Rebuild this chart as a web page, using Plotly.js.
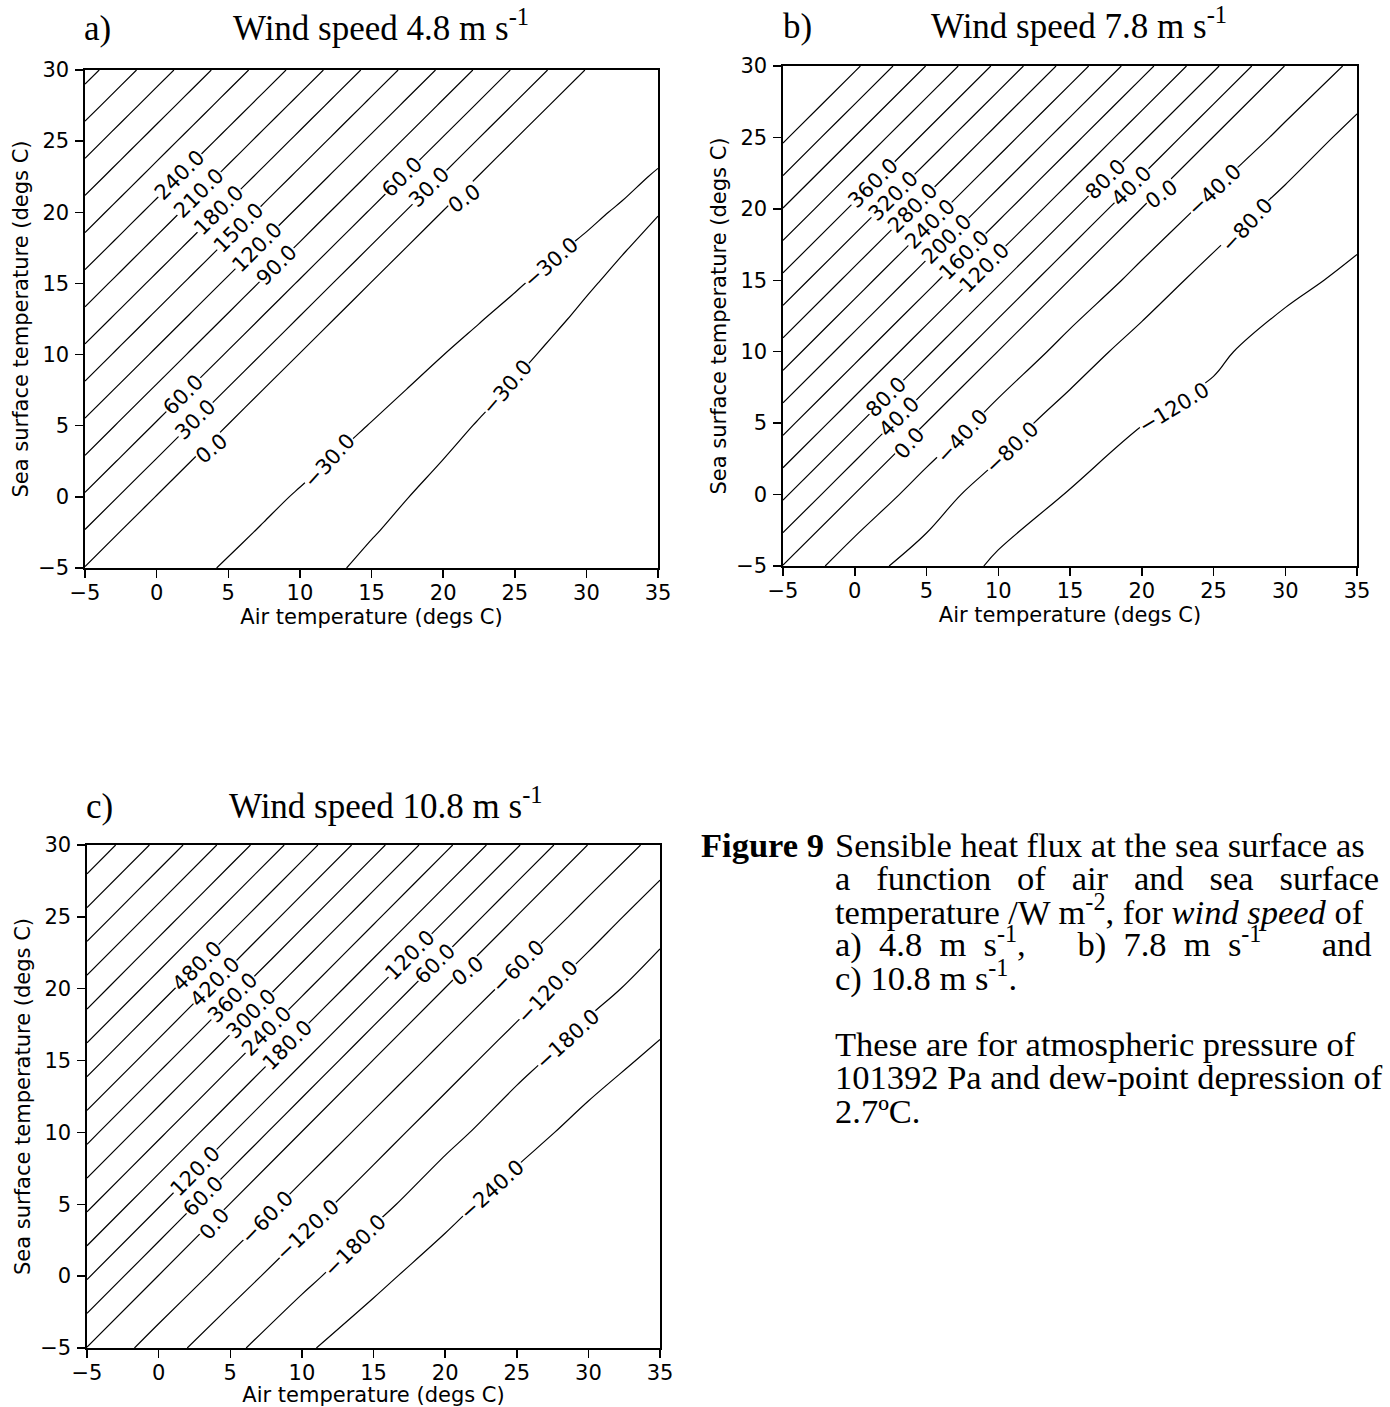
<!DOCTYPE html>
<html>
<head>
<meta charset="utf-8">
<script src="https://cdn.plot.ly/plotly-3.0.1.min.js"></script>
<style>
  html, body { margin: 0; padding: 0; background: #ffffff; }
  #fig { width: 1390px; height: 1407px; }
</style>
</head>
<body>
<div id="fig"></div>
<script>
// Sensible heat flux (W m-2) over a grid of air temperature (x) and sea surface temperature (y).
// Rows run along sea surface temperature, columns along air temperature.

// 2.5-degree grid used for the 4.8 m/s case (the stable side has a shallow flux minimum)
const airTempFine = [-5, -2.5, 0, 2.5, 5, 7.5, 10, 12.5, 15, 17.5, 20, 22.5, 25, 27.5, 30, 32.5, 35];
const seaTempFine = [-5, -2.5, 0, 2.5, 5, 7.5, 10, 12.5, 15, 17.5, 20, 22.5, 25, 27.5, 30];

// 5-degree grid used for the 7.8 and 10.8 m/s cases
const airTemp = [-5, 0, 5, 10, 15, 20, 25, 30, 35];
const seaTemp = [-5, 0, 5, 10, 15, 20, 25, 30];

// Wind speed 4.8 m/s
const fluxWind48 = [
  [-1.2, -11.9, -21.1, -27.5, -31.2, -32.8, -32.7, -30.7, -28.4, -26.8, -25.5, -24.5, -23.7, -23.1, -22.7, -22.3, -22.0],
  [27.6, -1.2, -11.9, -21.0, -27.4, -31.1, -32.8, -32.5, -30.4, -28.3, -26.7, -25.4, -24.4, -23.7, -23.1, -22.6, -22.3],
  [56.4, 27.6, -1.2, -11.9, -21.0, -27.4, -31.1, -32.7, -32.4, -30.1, -28.1, -26.5, -25.3, -24.3, -23.6, -23.0, -22.6],
  [85.1, 56.4, 27.6, -1.2, -11.6, -20.6, -27.0, -30.8, -32.5, -32.2, -29.9, -27.9, -26.4, -25.2, -24.3, -23.5, -23.0],
  [113.9, 85.1, 56.4, 27.6, -1.2, -11.3, -20.1, -26.5, -30.5, -32.3, -31.9, -29.6, -27.7, -26.2, -25.1, -24.2, -23.5],
  [142.6, 113.9, 85.1, 56.4, 27.6, -1.2, -11.1, -19.8, -26.2, -30.2, -32.1, -31.7, -29.4, -27.5, -26.1, -25.0, -24.1],
  [171.4, 142.6, 113.9, 85.1, 56.4, 27.6, -1.2, -10.8, -19.4, -25.8, -29.95, -31.9, -31.4, -29.1, -27.3, -25.9, -24.8],
  [200.1, 171.4, 142.6, 113.9, 85.1, 56.4, 27.6, -1.2, -10.6, -19.1, -25.5, -29.7, -31.7, -31.1, -28.8, -27.1, -25.7],
  [228.9, 200.1, 171.4, 142.6, 113.9, 85.1, 56.4, 27.6, -1.2, -10.4, -18.8, -25.1, -29.4, -31.5, -30.7, -28.5, -26.9],
  [257.6, 228.9, 200.1, 171.4, 142.6, 113.9, 85.1, 56.4, 27.6, -1.2, -10.1, -18.2, -24.5, -28.9, -31.3, -30.4, -28.3],
  [286.4, 257.6, 228.9, 200.1, 171.4, 142.6, 113.9, 85.1, 56.4, 27.6, -1.2, -9.7, -17.7, -23.9, -28.4, -31.0, -30.2],
  [315.1, 286.4, 257.6, 228.9, 200.1, 171.4, 142.6, 113.9, 85.1, 56.4, 27.6, -1.2, -9.4, -17.2, -23.4, -27.9, -30.8],
  [343.9, 315.1, 286.4, 257.6, 228.9, 200.1, 171.4, 142.6, 113.9, 85.1, 56.4, 27.6, -1.2, -9.2, -16.8, -22.8, -27.4],
  [372.6, 343.9, 315.1, 286.4, 257.6, 228.9, 200.1, 171.4, 142.6, 113.9, 85.1, 56.4, 27.6, -1.2, -8.9, -16.3, -22.3],
  [401.4, 372.6, 343.9, 315.1, 286.4, 257.6, 228.9, 200.1, 171.4, 142.6, 113.9, 85.1, 56.4, 27.6, -1.2, -8.6, -15.9]
];

// Wind speed 7.8 m/s
const fluxWind78 = [
  [-1.0, -67.3, -93.8, -126.6, -136, -143, -148, -152, -155],
  [86.9, -1.0, -63.9, -97.4, -122.0, -132, -139, -144, -148],
  [174.9, 86.9, -1.0, -61.0, -99.3, -119.5, -129.5, -136, -141],
  [262.9, 174.9, 86.9, -1.0, -58.4, -98.1, -115, -132.9, -139],
  [350.9, 262.9, 174.9, 86.9, -1.0, -55.2, -96.9, -112, -126.8],
  [438.9, 350.9, 262.9, 174.9, 86.9, -1.0, -53.7, -94.8, -107.9],
  [526.9, 438.9, 350.9, 262.9, 174.9, 86.9, -1.0, -51.0, -94.9],
  [614.9, 526.9, 438.9, 350.9, 262.9, 174.9, 86.9, -1.0, -49.75]
];

// Wind speed 10.8 m/s
const fluxWind108 = [
  [-1.5, -89.8, -165.4, -231.1, -275, -287, -295, -299, -299.5],
  [126.0, -1.5, -87.9, -162.7, -224.7, -270, -284, -292, -297],
  [253.5, 126.0, -1.5, -86.6, -161.4, -219.7, -268, -282, -290],
  [381.0, 253.5, 126.0, -1.5, -85.9, -161.4, -215.3, -262, -278],
  [508.5, 381.0, 253.5, 126.0, -1.5, -85.4, -161.4, -211.7, -254.6],
  [636.0, 508.5, 381.0, 253.5, 126.0, -1.5, -84.5, -159.5, -205],
  [763.5, 636.0, 508.5, 381.0, 253.5, 126.0, -1.5, -82.9, -160],
  [891.0, 763.5, 636.0, 508.5, 381.0, 253.5, 126.0, -1.5, -81.8]
];

// Contour levels for each wind speed
const levelsWind48 = { start: -30, end: 390, size: 30 };
const levelsWind78 = { start: -120, end: 520, size: 40 };
const levelsWind108 = { start: -240, end: 900, size: 60 };

// Labelled contour levels, each with the (air, sea) temperature where its label sits
const labelsWind48 = [
  [240, 2.4, 21.8], [210, 3.6, 20.7], [180, 4.8, 19.7], [150, 6.0, 18.6], [120, 7.4, 17.2], [90, 8.5, 16.2],
  [60, 17.2, 22.4], [30, 19.0, 21.8], [0, 21.1, 21.4],
  [60, 2.4, 6.6], [30, 3.0, 5.2], [0, 3.7, 3.5],
  [-30, 12.0, 2.6], [-30, 27.3, 16.6], [-30, 24.5, 7.7]
];
const labelsWind78 = [
  [360, 1.8, 21.3], [320, 3.1, 20.5], [280, 4.3, 19.8], [240, 5.5, 18.7], [200, 6.5, 17.8], [160, 7.6, 16.8], [120, 9.0, 15.9],
  [80, 17.4, 22.2], [40, 19.2, 21.7], [0, 21.2, 21.3], [-40, 25.1, 21.3], [-80, 27.2, 19.0],
  [80, 2.5, 6.5], [40, 3.2, 5.3], [0, 3.7, 3.7], [-40, 7.4, 4.2], [-80, 10.8, 3.4], [-120, 22.0, 6.5]
];
const labelsWind108 = [
  [480, 2.7, 21.6], [420, 3.8, 20.6], [360, 5.0, 19.5], [300, 6.3, 18.4], [240, 7.4, 17.2], [180, 8.8, 16.3],
  [120, 17.4, 22.5], [60, 19.2, 21.8], [0, 21.3, 21.6], [-60, 25.1, 21.5], [-120, 27.0, 19.9], [-180, 28.2, 16.9],
  [120, 2.6, 7.3], [60, 3.2, 5.5], [0, 3.8, 3.7], [-60, 7.4, 4.2], [-120, 10.4, 3.2], [-180, 13.5, 2.3], [-240, 23.2, 6.1]
];

const panelLetters = ['a)', 'b)', 'c)'];
const panelTitles = ['Wind speed 4.8 m s<sup>-1</sup>', 'Wind speed 7.8 m s<sup>-1</sup>', 'Wind speed 10.8 m s<sup>-1</sup>'];
const xTitle = 'Air temperature (degs C)';
const yTitle = 'Sea surface temperature (degs C)';

// wide gaps for the justified caption lines
const GAP = '\u00a0\u2002';
const captionHead = '<b>Figure 9</b>';
const captionLines = [
  'Sensible heat flux at the sea surface as',
  ['a', 'function', 'of', 'air', 'and', 'sea', 'surface'].join(GAP),
  'temperature /W m<sup>-2</sup>, for <i>wind speed</i> of',
  'a)\u00a0 4.8\u00a0 m\u00a0 s<sup>-1</sup>,\u00a0\u00a0\u00a0\u00a0\u00a0 b)\u00a0 7.8\u00a0 m\u00a0 s<sup>-1</sup>\u00a0\u00a0\u00a0\u00a0\u00a0\u00a0 and',
  'c) 10.8 m s<sup>-1</sup>.'
];
const captionNote = [
  'These are for atmospheric pressure of',
  '101392 Pa and dew-point depression of',
  '2.7\u00baC.'
];

// ---- page geometry ----
const W = 1390, H = 1407;
const px = x => x / W;
const py = y => 1 - y / H;

const SANS = 'DejaVu Sans';
const SERIF = 'Liberation Serif';
const CAPTION_SIZE = 34.5;

// plot boxes in page pixels: [left, right, top, bottom]
const boxes = [
  [85, 658, 70, 568],
  [783, 1357, 66, 566],
  [87, 660, 845, 1348]
];
const xDom = b => [px(b[0]), px(b[1])];
const yDom = b => [py(b[3]), py(b[2])];

function contourTrace(z, x, y, levels, xa, ya) {
  return {
    type: 'contour',
    x: x, y: y, z: z,
    xaxis: xa, yaxis: ya,
    autocontour: false,
    contours: { start: levels.start, end: levels.end, size: levels.size, coloring: 'none', showlabels: false },
    line: { color: '#000', width: 1.2, smoothing: 1 },
    showscale: false,
    hoverinfo: 'skip'
  };
}

function xAxis(domain, anchor) {
  return {
    domain: domain, anchor: anchor,
    range: [-5, 35], tick0: 0, dtick: 5,
    ticks: 'outside', ticklen: 8, tickwidth: 1.5, tickcolor: '#000',
    ticklabelstandoff: -3,
    showline: true, linewidth: 1.6, linecolor: '#000', mirror: true,
    showgrid: false, zeroline: false, automargin: false,
    tickfont: { family: SANS, size: 21, color: '#000' },
    title: { text: xTitle, font: { family: SANS, size: 21, color: '#000' }, standoff: 2 }
  };
}

function yAxis(domain, anchor) {
  return {
    domain: domain, anchor: anchor,
    range: [-5, 30], tick0: 0, dtick: 5,
    ticks: 'outside', ticklen: 8, tickwidth: 1.5, tickcolor: '#000',
    ticklabelstandoff: 2,
    showline: true, linewidth: 1.6, linecolor: '#000', mirror: true,
    showgrid: false, zeroline: false, automargin: false,
    tickfont: { family: SANS, size: 21, color: '#000' },
    title: { text: yTitle, font: { family: SANS, size: 21, color: '#000' }, standoff: 4 }
  };
}

// --- contour label placement: find where a level crosses a given air temperature ---
function columnAt(z, xs, xq) {
  let i = 0;
  while (i < xs.length - 2 && xs[i + 1] < xq) i++;
  const t = (xq - xs[i]) / (xs[i + 1] - xs[i]);
  return z.map(row => row[i] + t * (row[i + 1] - row[i]));
}
function levelCrossing(z, xs, ys, level, xq, yHint) {
  const col = columnAt(z, xs, xq);
  let best = null;
  for (let j = 0; j < ys.length - 1; j++) {
    const a = col[j] - level, b = col[j + 1] - level;
    if (a === 0 || a * b < 0) {
      const yc = ys[j] + (ys[j + 1] - ys[j]) * (a / (a - b));
      if (best === null || Math.abs(yc - yHint) < Math.abs(best - yHint)) best = yc;
    }
  }
  return best;
}
function contourLabels(z, xs, ys, labels, box, xref, yref) {
  const sx = (box[1] - box[0]) / 40, sy = (box[3] - box[2]) / 35;
  const out = [];
  labels.forEach(([level, ta, ts]) => {
    const h = 0.5;
    const y0 = levelCrossing(z, xs, ys, level, ta, ts);
    if (y0 === null) return;
    const xa = Math.max(-5, ta - h), xb = Math.min(35, ta + h);
    const ya = levelCrossing(z, xs, ys, level, xa, ts);
    const yb = levelCrossing(z, xs, ys, level, xb, ts);
    const slope = (ya !== null && yb !== null) ? (yb - ya) / (xb - xa) : 1;
    // slide along the line to the point nearest the label spot
    const shift = ((ts - y0) * slope * sy * sy) / (sx * sx + slope * slope * sy * sy);
    const x1 = Math.min(34.5, Math.max(-4.5, ta + shift));
    const y1 = levelCrossing(z, xs, ys, level, x1, ts);
    const angle = -Math.atan2(slope * sy, sx) * 180 / Math.PI;
    out.push({
      x: x1, y: y1 === null ? y0 : y1, xref: xref, yref: yref,
      text: level.toFixed(1).replace('-', '\u2212'),
      textangle: angle, showarrow: false,
      xanchor: 'center', yanchor: 'middle',
      bgcolor: '#ffffff', borderpad: 0,
      font: { family: SANS, size: 21, color: '#000' }
    });
  });
  return out;
}

const data = [
  contourTrace(fluxWind48, airTempFine, seaTempFine, levelsWind48, 'x', 'y'),
  contourTrace(fluxWind78, airTemp, seaTemp, levelsWind78, 'x2', 'y2'),
  contourTrace(fluxWind108, airTemp, seaTemp, levelsWind108, 'x3', 'y3')
];

const annotations = [].concat(
  contourLabels(fluxWind48, airTempFine, seaTempFine, labelsWind48, boxes[0], 'x', 'y'),
  contourLabels(fluxWind78, airTemp, seaTemp, labelsWind78, boxes[1], 'x2', 'y2'),
  contourLabels(fluxWind108, airTemp, seaTemp, labelsWind108, boxes[2], 'x3', 'y3')
);

function note(text, x, y, opts) {
  annotations.push(Object.assign({
    text: text, xref: 'paper', yref: 'paper', x: px(x), y: py(y),
    showarrow: false, xanchor: 'left', yanchor: 'bottom',
    font: { family: SERIF, size: 35, color: '#000' }
  }, opts || {}));
}

// panel headings (y is the bottom of the text box)
const letterPos = [[82, 50], [781, 48], [84, 828]];
const titlePos = [[231, 50], [929, 48], [227, 828]];
panelLetters.forEach((t, i) => note(t, letterPos[i][0], letterPos[i][1]));
panelTitles.forEach((t, i) => note(t, titlePos[i][0], titlePos[i][1]));

// caption
const capFont = { family: SERIF, size: CAPTION_SIZE, color: '#000' };
note(captionHead, 826, 866, { xanchor: 'right', font: capFont });
captionLines.forEach((t, i) => note(t, 833, 866 + i * 33.4, { font: capFont }));
captionNote.forEach((t, i) => note(t, 833, 1065 + i * 33.4, { font: capFont }));

const layout = {
  width: W, height: H,
  margin: { l: 0, r: 0, t: 0, b: 0, pad: 0 },
  paper_bgcolor: '#ffffff', plot_bgcolor: '#ffffff',
  showlegend: false,
  font: { family: SANS, color: '#000' },
  xaxis: xAxis(xDom(boxes[0]), 'y'),
  yaxis: yAxis(yDom(boxes[0]), 'x'),
  xaxis2: xAxis(xDom(boxes[1]), 'y2'),
  yaxis2: yAxis(yDom(boxes[1]), 'x2'),
  xaxis3: xAxis(xDom(boxes[2]), 'y3'),
  yaxis3: yAxis(yDom(boxes[2]), 'x3'),
  annotations: annotations
};

Plotly.newPlot('fig', data, layout, { staticPlot: true, displayModeBar: false });
</script>
</body>
</html>
